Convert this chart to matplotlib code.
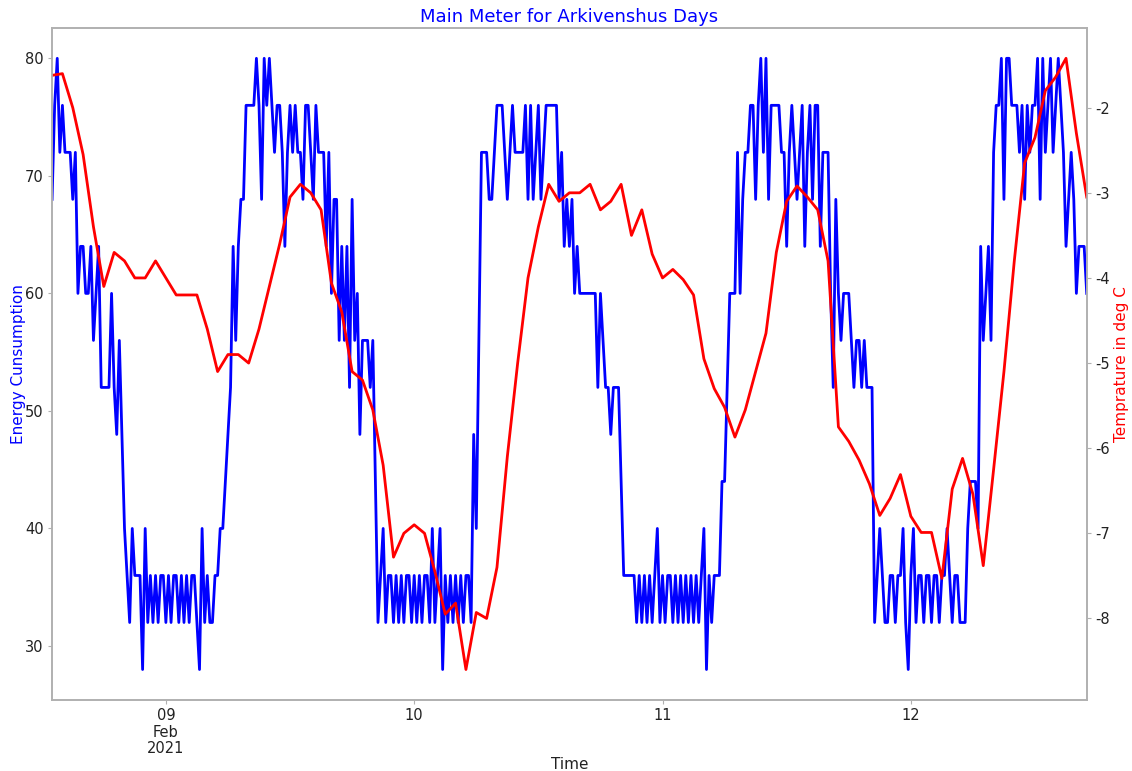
import pandas as pd
import matplotlib
matplotlib.use("Agg")
import matplotlib.pyplot as plt

plt.rcParams["axes.unicode_minus"] = False

# main meter readings, every 15 minutes from 2021-02-08 13:00
energy = [
    68, 76, 80, 72, 76, 72, 72, 72, 68, 72, 60, 64, 64, 60, 60, 64, 56, 60, 64, 52,
    52, 52, 52, 60, 52, 48, 56, 48, 40, 36, 32, 40, 36, 36, 36, 28, 40, 32, 36, 32,
    36, 32, 36, 36, 32, 36, 32, 36, 36, 32, 36, 32, 36, 32, 36, 36, 32, 28, 40, 32,
    36, 32, 32, 36, 36, 40, 40, 44, 48, 52, 64, 56, 64, 68, 68, 76, 76, 76, 76, 80,
    76, 68, 80, 76, 80, 76, 72, 76, 76, 72, 64, 72, 76, 72, 76, 72, 72, 68, 76, 76,
    72, 68, 76, 72, 72, 72, 64, 72, 60, 68, 68, 56, 64, 56, 64, 52, 68, 56, 60, 48,
    56, 56, 56, 52, 56, 44, 32, 36, 40, 32, 36, 36, 32, 36, 32, 36, 32, 36, 36, 32,
    36, 32, 36, 32, 36, 36, 32, 40, 32, 36, 40, 28, 36, 32, 36, 32, 36, 32, 36, 32,
    36, 36, 32, 48, 40, 56, 72, 72, 72, 68, 68, 72, 76, 76, 76, 72, 68, 72, 76, 72,
    72, 72, 72, 76, 68, 76, 68, 72, 76, 68, 72, 76, 76, 76, 76, 76, 68, 72, 64, 68,
    64, 68, 60, 64, 60, 60, 60, 60, 60, 60, 60, 52, 60, 56, 52, 52, 48, 52, 52, 52,
    44, 36, 36, 36, 36, 36, 32, 36, 32, 36, 32, 36, 32, 36, 40, 32, 36, 32, 36, 36,
    32, 36, 32, 36, 32, 36, 32, 36, 32, 36, 32, 36, 40, 28, 36, 32, 36, 36, 36, 44,
    44, 52, 60, 60, 60, 72, 60, 68, 72, 72, 76, 76, 68, 76, 80, 72, 80, 68, 76, 76,
    76, 76, 72, 72, 64, 72, 76, 72, 68, 72, 76, 64, 72, 76, 68, 76, 76, 64, 72, 72,
    72, 60, 52, 68, 60, 56, 60, 60, 60, 56, 52, 56, 56, 52, 56, 52, 52, 52, 32, 36,
    40, 36, 32, 32, 36, 36, 32, 36, 36, 40, 32, 28, 36, 40, 32, 36, 36, 32, 36, 36,
    32, 36, 36, 32, 36, 36, 40, 36, 32, 36, 36, 32, 32, 32, 40, 44, 44, 44, 40, 64,
    56, 60, 64, 56, 72, 76, 76, 80, 68, 80, 80, 76, 76, 76, 72, 76, 68, 76, 72, 76,
    76, 80, 68, 80, 72, 76, 80, 72, 76, 80, 76, 72, 64, 68, 72, 68, 60, 64, 64, 64,
    60,
]

# outdoor temperature, hourly from the same start
temperature = [
    -1.62, -1.60, -2.00, -2.55, -3.40, -4.10, -3.70, -3.80, -4.00, -4.00,
    -3.80, -4.00, -4.20, -4.20, -4.20, -4.60, -5.10, -4.90, -4.90, -5.00,
    -4.60, -4.10, -3.60, -3.05, -2.90, -3.00, -3.20, -4.06, -4.40, -5.10,
    -5.20, -5.55, -6.20, -7.28, -7.00, -6.90, -7.00, -7.45, -7.95, -7.82,
    -8.60, -7.93, -8.00, -7.40, -6.10, -5.00, -4.00, -3.40, -2.90, -3.10,
    -3.00, -3.00, -2.90, -3.20, -3.10, -2.90, -3.50, -3.20, -3.72, -4.00,
    -3.90, -4.02, -4.20, -4.95, -5.30, -5.52, -5.87, -5.55, -5.10, -4.65,
    -3.70, -3.10, -2.92, -3.05, -3.20, -3.80, -5.75, -5.92, -6.14, -6.42,
    -6.79, -6.59, -6.31, -6.80, -6.99, -6.99, -7.53, -6.48, -6.12, -6.54,
    -7.38, -6.25, -5.10, -3.80, -2.65, -2.35, -1.80, -1.64, -1.42, -2.30,
    -3.05,
]

day_labels = ["09\nFeb\n2021", "10", "11", "12"]

energy_time = pd.date_range("2021-02-08 13:00", periods=len(energy), freq="15min")
temp_time = pd.date_range("2021-02-08 13:00", periods=len(temperature), freq="h")
day_ticks = pd.date_range("2021-02-09", periods=len(day_labels), freq="D")

fig = plt.figure(figsize=(11.32, 7.71), dpi=100)
ax = fig.add_axes([0.046, 0.092, 0.914, 0.872])
ax.plot(energy_time, energy, color="blue", lw=2)
ax.set_xlim(energy_time[0], energy_time[-1])
ax.set_xticks(day_ticks)
ax.set_xticklabels(day_labels, linespacing=1.1)
ax.set_yticks([30, 40, 50, 60, 70, 80])

ax2 = ax.twinx()
ax2.plot(temp_time, temperature, color="red", lw=2)
ax2.set_yticks([-8, -7, -6, -5, -4, -3, -2])

for a in (ax, ax2):
    for s in a.spines.values():
        s.set_color("#b0b0b0")
        s.set_linewidth(1.2)
    a.tick_params(colors="#b0b0b0", labelcolor="#222222", labelsize=10.5, length=3, pad=3)

ax.set_title("Main Meter for Arkivenshus Days", color="blue", fontsize=13, pad=4)
ax.set_xlabel("Time", fontsize=11, color="#222222", labelpad=1)
ax.set_ylabel("Energy Cunsumption", color="blue", fontsize=11, labelpad=-1)
ax2.set_ylabel("Temprature in deg C", color="red", fontsize=11, labelpad=3)

fig.savefig("out.png", dpi=100)
